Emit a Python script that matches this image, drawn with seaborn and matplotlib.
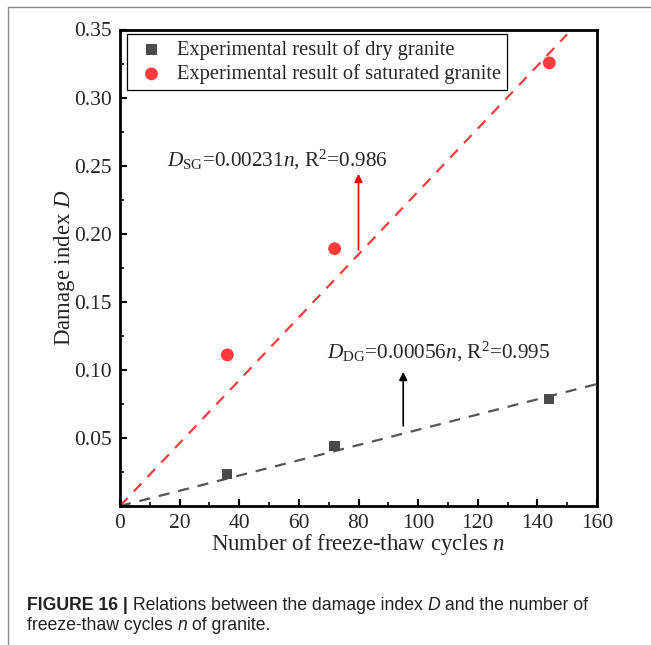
import numpy as np
import pandas as pd
import matplotlib
matplotlib.use("Agg")
import matplotlib.pyplot as plt
from matplotlib.lines import Line2D
from matplotlib.ticker import MultipleLocator, FixedLocator
import seaborn as sns

# ---- data ----
cycles = [36, 72, 144]
damage_dry = [0.0233, 0.0441, 0.0787]
damage_sat = [0.111, 0.189, 0.3255]
fit_n_dry = [0, 160]
fit_D_dry = [0.0, 0.0896]
fit_n_sat = [0, 150]
fit_D_sat = [0.0, 0.3465]
xticks = [0, 20, 40, 60, 80, 100, 120, 140, 160]
yticks = [0.05, 0.10, 0.15, 0.20, 0.25, 0.30, 0.35]
ytick_labels = ["0.05", "0.10", "0.15", "0.20", "0.25", "0.30", "0.35"]
label_dry = "Experimental result of dry granite"
label_sat = "Experimental result of saturated granite"

sns.set_style("ticks")
plt.rcParams["font.family"] = ["Liberation Serif", "DejaVu Serif"]
plt.rcParams["mathtext.fontset"] = "custom"
plt.rcParams["mathtext.rm"] = "Liberation Serif"
plt.rcParams["mathtext.it"] = "Liberation Serif:italic"
plt.rcParams["mathtext.bf"] = "Liberation Serif:bold"

fig = plt.figure(figsize=(6.51, 6.45), dpi=100)
ax = fig.add_axes([120 / 651, 1 - 506 / 645, 477 / 651, 476.5 / 645])

RED = "#ff3b3b"
GRAY = "#4a4a4a"

df_dry = pd.DataFrame({"n": cycles, "D": damage_dry})
df_sat = pd.DataFrame({"n": cycles, "D": damage_sat})
fit_dry = pd.DataFrame({"n": fit_n_dry, "D": fit_D_dry})
fit_sat = pd.DataFrame({"n": fit_n_sat, "D": fit_D_sat})

sns.lineplot(data=fit_dry, x="n", y="D", ax=ax, color="#555555", lw=1.6,
             linestyle=(0, (5, 4)), zorder=2)
sns.lineplot(data=fit_sat, x="n", y="D", ax=ax, color=RED, lw=1.6,
             linestyle=(0, (5, 4)), zorder=2)
sns.scatterplot(data=df_dry, x="n", y="D", ax=ax, marker="s", s=55,
                color=GRAY, edgecolor="none", label=label_dry, zorder=3)
sns.scatterplot(data=df_sat, x="n", y="D", ax=ax, marker="o", s=85,
                color=RED, edgecolor="none", label=label_sat, zorder=3)

ax.set_xlim(0, 160)
ax.set_ylim(0, 0.35)
ax.xaxis.set_major_locator(FixedLocator(xticks))
ax.xaxis.set_minor_locator(MultipleLocator(10))
ax.set_yticks(yticks)
ax.set_yticklabels(ytick_labels)
ax.yaxis.set_minor_locator(MultipleLocator(0.025))
ax.tick_params(axis="both", which="major", direction="in", length=5,
               width=1.5, labelsize=15.5, pad=6, color="black")
ax.tick_params(axis="both", which="minor", direction="in", length=3,
               width=1.2, color="black")
ax.tick_params(top=False, right=False, which="both")
for sp in ax.spines.values():
    sp.set_visible(True)
    sp.set_linewidth(2)
    sp.set_color("black")

ax.set_xlabel("Number of freeze-thaw cycles $n$", fontsize=16.5)
ax.set_ylabel("Damage index $D$", fontsize=16.5)
ax.xaxis.set_label_coords(0.5, -0.055)
ax.yaxis.set_label_coords(-0.09, 0.5)

leg = ax.legend(loc="upper left", bbox_to_anchor=(0.0147, 0.991),
                borderaxespad=0, fontsize=14.8, frameon=True, fancybox=False,
                edgecolor="black", framealpha=1, labelspacing=0.22,
                handlelength=1.78, handletextpad=0.36, borderpad=0.3)
leg.get_frame().set_linewidth(0.9)

ax.text(15.8, 0.254, r"$D_{\mathrm{SG}}$=0.00231$n$, R$^2$=0.986",
        fontsize=15.3, va="center", ha="left")
ax.text(69.4, 0.113, r"$D_{\mathrm{DG}}$=0.00056$n$, R$^2$=0.995",
        fontsize=15.3, va="center", ha="left")
ax.annotate("", xy=(80, 0.244), xytext=(80, 0.188),
            arrowprops=dict(arrowstyle="-|>", color="red", lw=1.2,
                            mutation_scale=12, shrinkA=0, shrinkB=0))
ax.annotate("", xy=(95, 0.0985), xytext=(95, 0.0588),
            arrowprops=dict(arrowstyle="-|>", color="black", lw=1.2,
                            mutation_scale=12, shrinkA=0, shrinkB=0))

# outer border lines
fig.add_artist(Line2D([8 / 651, 1.0], [1 - 7 / 645, 1 - 7 / 645],
                      transform=fig.transFigure, color="#8a8a8a", lw=1))
fig.add_artist(Line2D([8 / 651, 8 / 651], [0, 1 - 7 / 645],
                      transform=fig.transFigure, color="#8a8a8a", lw=1))

# caption
cap_kw = dict(fontsize=12.7, family=["Liberation Sans", "DejaVu Sans"], color="#222222")
t1 = fig.text(27 / 651, 1 - 603 / 645, "FIGURE 16 |", fontweight="bold",
              va="center_baseline", ha="left", **cap_kw)
t2 = fig.text(0, 0, " Relations between the damage index ", **cap_kw)
t3 = fig.text(0, 0, "D", style="italic", **cap_kw)
t4 = fig.text(0, 0, " and the number of", **cap_kw)
fig.canvas.draw()
r = fig.canvas.get_renderer()

def place_after(prev, cur):
    bb = prev.get_window_extent(r)
    x = bb.x1 / fig.bbox.width
    cur.set_position((x, prev.get_position()[1]))
    cur.set_va(prev.get_va())
    cur.set_ha("left")

place_after(t1, t2)
place_after(t2, t3)
place_after(t3, t4)

u1 = fig.text(27 / 651, 1 - 624 / 645, "freeze-thaw cycles ", va="center_baseline",
              ha="left", **cap_kw)
u2 = fig.text(0, 0, "n", style="italic", **cap_kw)
u3 = fig.text(0, 0, " of granite.", **cap_kw)
fig.canvas.draw()
place_after(u1, u2)
fig.canvas.draw()
place_after(u2, u3)

fig.savefig("out.png", dpi=100)
